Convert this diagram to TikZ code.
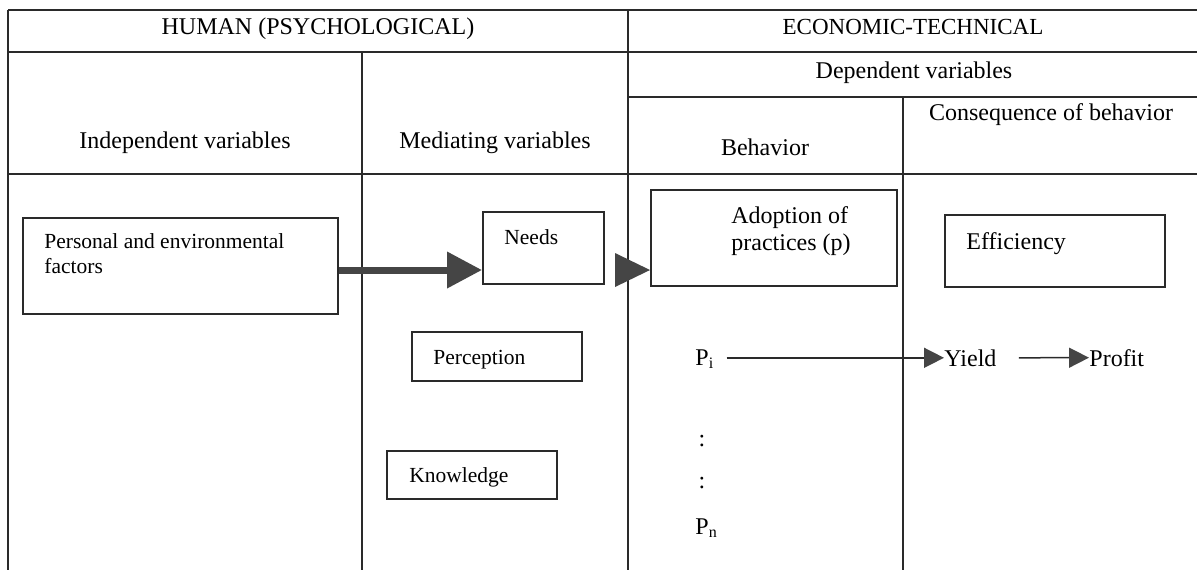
\documentclass[tikz,border=0pt]{standalone}
\usepackage{fontspec}
\setmainfont{Liberation Serif}
\usetikzlibrary{arrows.meta,fit}
\definecolor{ink}{HTML}{2A2A2A}
\definecolor{headgray}{HTML}{454545}
\begin{document}
\begin{tikzpicture}[x=0.5pt,y=-0.5pt,
  grid/.style={draw=ink,line width=0.75pt},
  box/.style={draw=ink,line width=1pt,inner sep=0pt},
  hdr/.style={font=\fontsize{12}{14}\selectfont,anchor=base,inner sep=0pt},
  lbl/.style={font=\fontsize{12}{14}\selectfont,anchor=base west,inner sep=0pt},
  slbl/.style={font=\fontsize{10.75}{12.5}\selectfont,anchor=base west,inner sep=0pt},
  bigarrow/.style={draw=headgray,line width=3.5pt,-{Triangle[length=17.5pt,width=17.5pt,color=headgray]}},
  smallarrow/.style={draw=ink,line width=0.75pt,-{Triangle[length=10pt,width=10pt,color=headgray]}}]
\useasboundingbox (0,0) rectangle (1197,570);
\fill[white] (0,0) rectangle (1197,570);
% table grid
\draw[grid] (8,10) -- (1197,10);
\draw[grid] (8,52) -- (1197,52);
\draw[grid] (628,97) -- (1197,97);
\draw[grid] (8,174) -- (1197,174);
\draw[grid] (8,10) -- (8,570);
\draw[grid] (628,10) -- (628,570);
\draw[grid] (362,52) -- (362,570);
\draw[grid] (903,97) -- (903,570);
% headers
\node[hdr] (human) at (318,34) {HUMAN (PSYCHOLOGICAL)};
\node[hdr,font=\fontsize{11.5}{14}\selectfont] (econ) at (913,34) {ECONOMIC-TECHNICAL};
\node[hdr] (dep) at (914,78) {Dependent variables};
\node[hdr] (cons) at (1051,120) {Consequence of behavior};
\node[hdr] (behav) at (765,155) {Behavior};
\node[hdr] (indep) at (185,148) {Independent variables};
\node[hdr] (med) at (495,148) {Mediating variables};
% boxes
\node[box,fit={(23,218)(338,314)}] (personal) {};
\node[box,fit={(483,212)(604,284)}] (needs) {};
\node[box,fit={(651,190)(897,286)}] (adopt) {};
\node[box,fit={(945,215)(1165,287)}] (effic) {};
\node[box,fit={(412,332)(582,381)}] (percep) {};
\node[box,fit={(387,451)(557,499)}] (know) {};
% box texts
\node[slbl] (t1) at (44,248) {Personal and environmental};
\node[slbl] (t2) at (44,273) {factors};
\node[slbl] (needsT) at (504,244) {Needs};
\node[lbl] (adT1) at (731,223) {Adoption of};
\node[lbl] (adT2) at (731,250) {practices (p)};
\node[lbl] (effT) at (966,249) {Efficiency};
\node[slbl] (percT) at (433,364) {Perception};
\node[slbl] (knowT) at (409,482) {Knowledge};
% practices column
\node[lbl] (pi) at (695,365) {P\textsubscript{i}};
\node[lbl,anchor=base] (c1) at (702,446) {:};
\node[lbl,anchor=base] (c2) at (702,488) {:};
\node[lbl] (pn) at (695,534) {P\textsubscript{n}};
\node[lbl] (yield) at (944,366) {Yield};
\node[lbl] (profit) at (1089,366) {Profit};
% connectors
\coordinate (a1) at (0,270);
\draw[bigarrow] (personal.east |- a1) -- (needs.west |- a1);
\fill[headgray] (adopt.west |- a1) -- ++(-35,-17) -- ++(0,34) -- cycle;
\draw[smallarrow,shorten <=6pt] (pi.east |- yield.west) -- (yield.west);
\draw[smallarrow,shorten <=11pt] (yield.east) -- (profit.west);
\end{tikzpicture}
\end{document}
